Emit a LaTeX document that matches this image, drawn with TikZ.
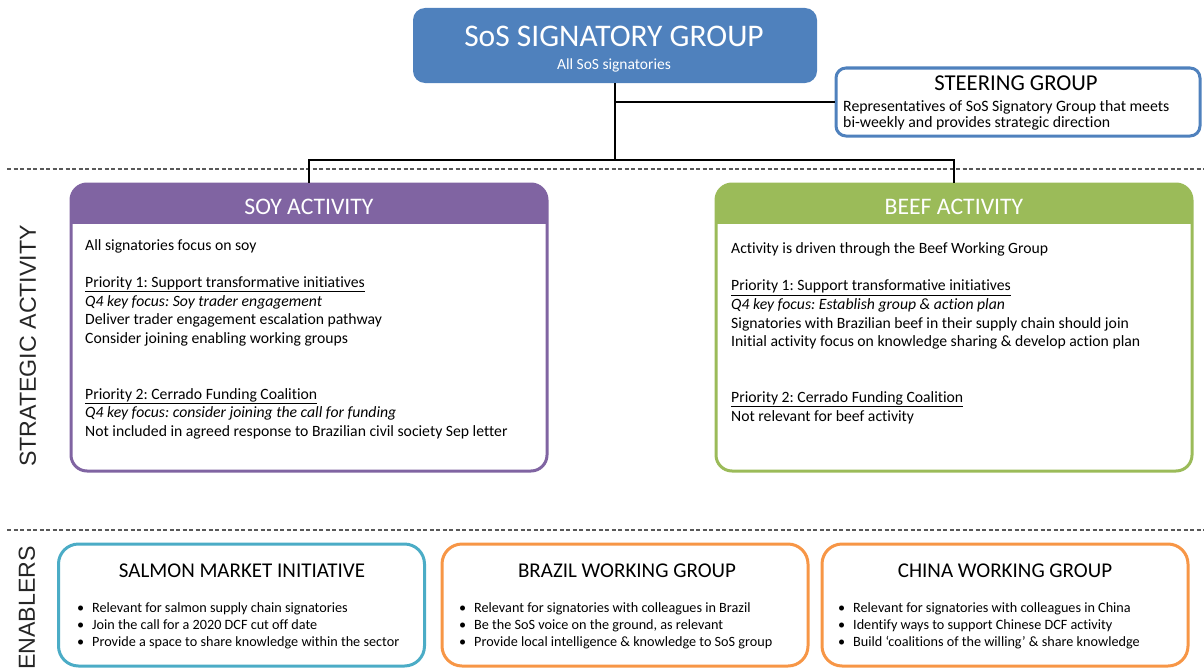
\documentclass[tikz,border=0pt]{standalone}
\usepackage{fontspec}
\setmainfont{Carlito}[Ligatures=NoCommon]
\newfontfamily\labelfont{Liberation Sans}
\usetikzlibrary{positioning,calc}
\definecolor{sosblue}{HTML}{4F81BD}
\definecolor{soypurple}{HTML}{8064A2}
\definecolor{beefgreen}{HTML}{9BBB59}
\definecolor{salmonblue}{HTML}{4BACC6}
\definecolor{wgorange}{HTML}{F79646}
\newcommand\bitem{\makebox[15pt][l]{\textbullet}}
\frenchspacing

\begin{document}
\begin{tikzpicture}[x=1pt, y=-1pt,
            conn/.style={draw=black, line width=1.8pt},
            divider/.style={draw=black!65, line width=1.1pt, dash pattern=on 4pt off 2.5pt},
            sidelabel/.style={font=\labelfont\fontsize{23.2}{23.2}\selectfont, text=black!85, rotate=90, inner sep=0},
            actbox/.style={draw=#1, fill=white, line width=3pt, rounded corners=16pt,
                minimum width=476pt, minimum height=287pt,
                path picture={\fill[#1, sharp corners] (path picture bounding box.north west)
                    rectangle ([yshift=-40pt]path picture bounding box.north east);}},
            enbox/.style={draw=#1, fill=white, line width=3pt, rounded corners=20pt,
                minimum width=366pt, minimum height=122pt},
            head/.style={inner sep=0, anchor=base},
            body/.style={inner sep=0, anchor=north west, align=left, font=\fontsize{15.7}{18.6}\selectfont},
            bullets/.style={inner sep=0, anchor=north west, align=left, font=\fontsize{14.2}{17}\selectfont}
            ]
            \useasboundingbox (0,0) rectangle (1204,669);

            % dashed section dividers and side labels
            \coordinate (div1w) at (7,169);
            \coordinate (div1e) at (1204,169);
            \coordinate (div2w) at (7,530);
            \coordinate (div2e) at (1204,530);
            \draw[divider] (div1w) -- (div1e);
            \draw[divider] (div2w) -- (div2e);
            \node[sidelabel] (strat) at (28,346) {STRATEGIC ACTIVITY};
            \node[sidelabel] (enab) at (27,608) {ENABLERS};

            % signatory group and steering group
            \node[fill=sosblue, rounded corners=12pt, minimum width=404pt, minimum height=75pt] (sig) at (615,45.5) {};
            \node[head, text=white, font=\fontsize{31.5}{31.5}\selectfont] (sigtitle) at (614,47) {SoS SIGNATORY GROUP};
            \node[head, text=white, font=\fontsize{15.5}{15.5}\selectfont] (sigsub) at (614,69.5) {All SoS signatories};

            \node[draw=sosblue, fill=white, line width=3pt, rounded corners=10pt, minimum width=364pt, minimum height=68pt] (steer) at (1018,102) {};
            \node[head, font=\fontsize{22.7}{22.7}\selectfont] (steertitle) at (1016,90) {STEERING GROUP};
            \node[inner sep=0, anchor=north west, align=left, font=\fontsize{15.8}{16}\selectfont] (steerbody) at (843,100)
                {\strut Representatives of SoS Signatory Group that meets\\bi-weekly and provides strategic direction};

            % strategic activity
            \node[actbox=soypurple] (soy) at (309,327.5) {};
            \node[head, text=white, font=\fontsize{23.7}{23.7}\selectfont] (soytitle) at (309,214.5) {SOY ACTIVITY};
            \node[body] (soybody) at (85,237) {\strut All signatories focus on soy\\[18.6pt]
                \underline{Priority 1: Support transformative initiatives}\\
                \textit{Q4 key focus: Soy trader engagement}\\
                Deliver trader engagement escalation pathway\\
                Consider joining enabling working groups\\[37.2pt]
                \underline{Priority 2: Cerrado Funding Coalition}\\
                \textit{Q4 key focus: consider joining the call for funding}\\
                Not included in agreed response to Brazilian civil society Sep letter};

            \node[actbox=beefgreen] (beef) at (954,327.5) {};
            \node[head, text=white, font=\fontsize{23.7}{23.7}\selectfont] (beeftitle) at (954,214.5) {BEEF ACTIVITY};
            \node[body] (beefbody) at (731,240.5) {\strut Activity is driven through the Beef Working Group\\[18.6pt]
                \underline{Priority 1: Support transformative initiatives}\\
                \textit{Q4 key focus: Establish group \& action plan}\\
                Signatories with Brazilian beef in their supply chain should join\\
                Initial activity focus on knowledge sharing \& develop action plan\\[37.2pt]
                \underline{Priority 2: Cerrado Funding Coalition}\\
                Not relevant for beef activity};

            % enablers
            \node[enbox=salmonblue] (salmon) at (241.5,605) {};
            \node[head, font=\fontsize{21}{21}\selectfont] (salmontitle) at (242,577) {SALMON MARKET INITIATIVE};
            \node[bullets] (salmonlist) at (77,600.6) {\strut\bitem Relevant for salmon supply chain signatories\\
                \bitem Join the call for a 2020 DCF cut off date\\
                \bitem Provide a space to share knowledge within the sector};

            \node[enbox=wgorange] (brazil) at (625,605) {};
            \node[head, font=\fontsize{21}{21}\selectfont] (braziltitle) at (627,577) {BRAZIL WORKING GROUP};
            \node[bullets] (brazillist) at (459,600.6) {\strut\bitem Relevant for signatories with colleagues in Brazil\\
                \bitem Be the SoS voice on the ground, as relevant\\
                \bitem Provide local intelligence \& knowledge to SoS group};

            \node[enbox=wgorange] (china) at (1005,605) {};
            \node[head, font=\fontsize{21}{21}\selectfont] (chinatitle) at (1005,577) {CHINA WORKING GROUP};
            \node[bullets] (chinalist) at (838,600.6) {\strut\bitem Relevant for signatories with colleagues in China\\
                \bitem Identify ways to support Chinese DCF activity\\
                \bitem Build `coalitions of the willing' \& share knowledge};

            % connectors
            \coordinate (split) at (615,160);
            \draw[conn] (sig.south) -- (split);
            \draw[conn] (steer.west) -- (steer.west -| split);
            \draw[conn] (soy.north) |- (split) -| (beef.north);
\end{tikzpicture}
\end{document}
